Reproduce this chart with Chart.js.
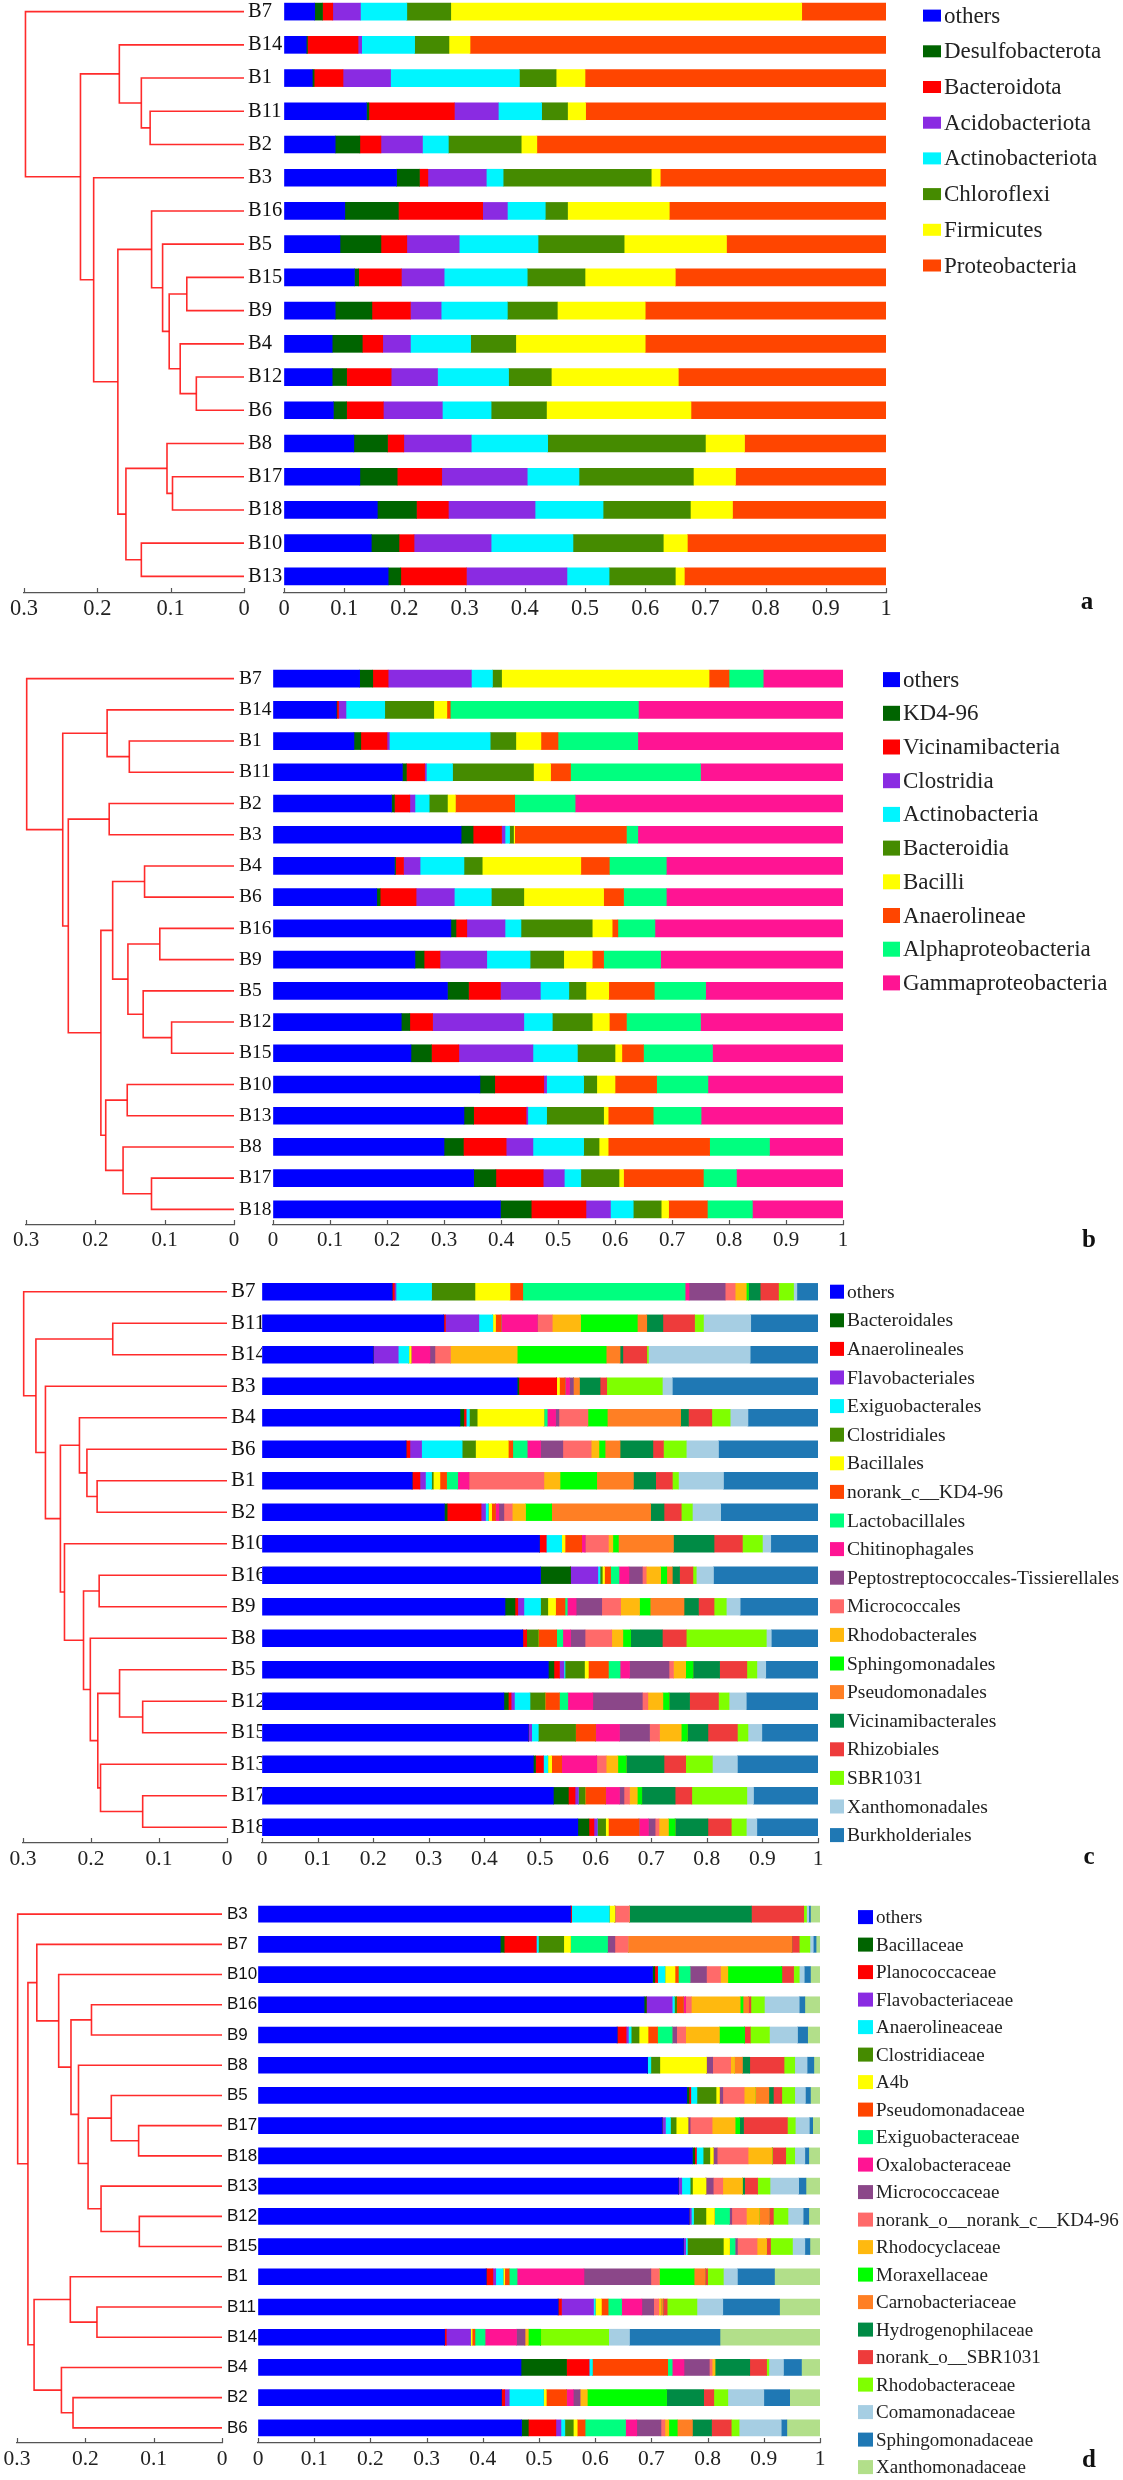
<!DOCTYPE html>
<html><head><meta charset="utf-8">
<script src="https://cdn.jsdelivr.net/npm/chart.js@4.4.1/dist/chart.umd.min.js"></script>
<style>
html,body{margin:0;padding:0;background:#fff;}
#page{position:relative;width:1123px;height:2480px;overflow:hidden;background:#fff;}
canvas{position:absolute;}
</style></head>
<body><div id="page"></div>
<script>
// ---------------- DATA ----------------
// Panel a (phylum)
const samplesA = ["B7","B14","B1","B11","B2","B3","B16","B5","B15","B9","B4","B12","B6","B8","B17","B18","B10","B13"];
const taxaA = ["others","Desulfobacterota","Bacteroidota","Acidobacteriota","Actinobacteriota","Chloroflexi","Firmicutes","Proteobacteria"];
const valuesA = [
  [.051,.013,.017,.046,.077,.073,.583,.140],
  [.037,.002,.084,.006,.088,.057,.035,.691],
  [.047,.003,.048,.079,.214,.061,.048,.500],
  [.137,.004,.142,.073,.072,.043,.030,.499],
  [.085,.041,.035,.069,.043,.121,.026,.580],
  [.187,.038,.014,.097,.028,.246,.015,.375],
  [.101,.089,.140,.041,.063,.037,.169,.360],
  [.093,.068,.043,.087,.131,.143,.170,.265],
  [.117,.007,.071,.071,.138,.096,.150,.350],
  [.085,.061,.064,.051,.110,.083,.146,.400],
  [.080,.050,.034,.046,.100,.075,.215,.400],
  [.080,.024,.074,.077,.118,.071,.211,.345],
  [.082,.022,.061,.098,.081,.092,.240,.324],
  [.116,.056,.027,.112,.127,.262,.065,.235],
  [.126,.062,.074,.142,.086,.190,.070,.250],
  [.155,.065,.053,.144,.113,.145,.070,.255],
  [.145,.046,.025,.128,.136,.150,.040,.330],
  [.173,.021,.109,.167,.070,.110,.015,.335]
];
// linkage: [left, right, height]; numbers refer to earlier merges
const treeA = [
  ["B11","B2",0.128],["B1",0,0.140],["B14",1,0.170],["B15","B9",0.078],["B12","B6",0.065],
  ["B4",4,0.087],[3,5,0.102],["B5",6,0.111],["B16",7,0.126],["B17","B18",0.0975],
  ["B8",9,0.105],["B10","B13",0.140],[10,11,0.161],[8,12,0.172],["B3",13,0.205],
  [2,14,0.223],["B7",15,0.298]
];

// Panel b (class)
const samplesB = ["B7","B14","B1","B11","B2","B3","B4","B6","B16","B9","B5","B12","B15","B10","B13","B8","B17","B18"];
const taxaB = ["others","KD4-96","Vicinamibacteria","Clostridia","Actinobacteria","Bacteroidia","Bacilli","Anaerolineae","Alphaproteobacteria","Gammaproteobacteria"];
const valuesB = [
  [.152,.023,.027,.146,.037,.016,.364,.035,.060,.140],
  [.111,.001,.003,.013,.068,.086,.023,.006,.330,.359],
  [.142,.012,.046,.004,.177,.045,.044,.030,.140,.360],
  [.227,.007,.032,.003,.046,.142,.030,.035,.228,.250],
  [.208,.005,.027,.009,.025,.032,.014,.104,.106,.470],
  [.330,.021,.050,.006,.008,.007,.002,.196,.020,.360],
  [.213,.002,.014,.029,.077,.032,.173,.050,.100,.310],
  [.182,.006,.063,.067,.065,.057,.140,.035,.075,.310],
  [.312,.009,.019,.067,.028,.125,.035,.010,.065,.330],
  [.249,.016,.028,.082,.076,.059,.050,.020,.100,.320],
  [.306,.037,.056,.070,.050,.030,.040,.080,.090,.241],
  [.225,.015,.040,.160,.050,.070,.030,.030,.130,.250],
  [.242,.036,.048,.130,.078,.066,.012,.038,.121,.229],
  [.363,.026,.086,.005,.065,.023,.032,.073,.090,.237],
  [.335,.017,.092,.003,.033,.100,.008,.079,.084,.249],
  [.300,.034,.075,.047,.089,.027,.016,.178,.105,.129],
  [.352,.039,.083,.037,.029,.067,.008,.140,.058,.187],
  [.399,.054,.096,.043,.040,.049,.013,.068,.079,.159]
];
const treeB = [
  ["B1","B11",0.151],["B14",0,0.183],["B2","B3",0.180],["B4","B6",0.129],["B16","B9",0.107],
  ["B12","B15",0.090],["B5",5,0.131],[4,6,0.153],[3,7,0.175],["B10","B13",0.154],
  ["B17","B18",0.119],["B8",10,0.160],[9,11,0.185],[8,12,0.192],[2,13,0.239],
  [1,14,0.247],["B7",15,0.299]
];

// Panel c (order)
const samplesC = ["B7","B11","B14","B3","B4","B6","B1","B2","B10","B16","B9","B8","B5","B12","B15","B13","B17","B18"];
const taxaC = ["others","Bacteroidales","Anaerolineales","Flavobacteriales","Exiguobacterales","Clostridiales","Bacillales","norank_c__KD4-96","Lactobacillales","Chitinophagales","Peptostreptococcales-Tissierellales","Micrococcales","Rhodobacterales","Sphingomonadales","Pseudomonadales","Vicinamibacterales","Rhizobiales","SBR1031","Xanthomonadales","Burkholderiales"];
const valuesC = [
  [.234,0,.004,.003,.064,.078,.063,.023,.292,.007,.065,.018,.020,.004,0,.021,.033,.027,.006,.038],
  [.327,0,.003,.060,.025,0,.005,.010,0,.065,0,.027,.051,.102,.017,.029,.057,.016,.085,.121],
  [.200,0,0,.045,.019,0,.004,0,0,.034,.009,.028,.120,.160,.025,.005,.043,.003,.183,.122],
  [.459,.003,.068,0,0,0,.005,.010,0,.008,.007,0,0,0,.011,.037,.012,.100,.018,.262],
  [.356,.007,.004,0,.006,.014,.120,0,.006,.015,.006,.052,0,.035,.132,.014,.042,.033,.032,.126],
  [.259,0,.007,.021,.073,.024,.059,.008,.026,.024,.040,.051,.014,.011,.027,.059,.019,.041,.058,.179],
  [.270,0,.014,.010,.011,.003,.012,.012,.020,.020,0,.135,.029,.066,.066,.040,.030,.011,.081,.170],
  [.328,.005,.061,.008,.005,0,.006,.007,0,.006,.009,.015,.024,.047,.178,.024,.031,.020,.051,.175],
  [.499,0,.012,0,.028,0,.006,.030,0,.006,0,.042,.008,.010,.099,.073,.051,.036,.015,.085],
  [.501,.054,0,.049,.004,.004,.004,.011,.015,.018,.024,.007,.026,.011,.010,.013,.024,.006,.031,.188],
  [.437,.018,.005,.011,.030,.013,.014,.017,.004,.016,.046,.034,.034,.019,.061,.026,.028,.022,.025,.140],
  [.469,0,.007,0,0,.021,0,.033,.011,.014,.026,.048,.020,.014,0,.057,.043,.144,.009,.084],
  [.515,.010,.010,.008,.002,.035,.007,.036,.021,.017,.071,.008,.022,.013,0,.048,.049,.018,.016,.094],
  [.435,.008,.005,.006,.028,.027,0,.026,.015,.045,.089,.010,.027,.011,0,.037,.052,.019,.031,.129],
  [.479,0,0,.006,.012,.067,0,.036,0,.043,.054,.018,.039,.011,0,.037,.053,.019,.025,.101],
  [.488,.004,.014,0,.008,0,.007,.018,0,.063,0,.017,.021,.015,0,.068,.039,.048,.045,.145],
  [.524,.027,.012,.006,0,.012,0,.037,0,.025,.008,.010,.014,.008,0,.060,.030,.099,.012,.116],
  [.568,.020,.009,.006,0,.015,.005,.055,0,.017,.012,.007,.017,.012,0,.059,.042,.027,.019,.110]
];
const treeC = [
  ["B11","B14",0.168],["B1","B2",0.191],["B6",1,0.206],["B4",2,0.217],["B16","B9",0.188],
  ["B12","B15",0.124],["B5",5,0.158],["B17","B18",0.124],["B13",7,0.186],[6,8,0.190],
  ["B8",9,0.201],[4,10,0.211],["B10",11,0.239],[3,12,0.245],["B3",13,0.267],
  [0,14,0.281],["B7",15,0.299]
];

// Panel d (family)
const samplesD = ["B3","B7","B10","B16","B9","B8","B5","B17","B18","B13","B12","B15","B1","B11","B14","B4","B2","B6"];
const taxaD = ["others","Bacillaceae","Planococcaceae","Flavobacteriaceae","Anaerolineaceae","Clostridiaceae","A4b","Pseudomonadaceae","Exiguobacteraceae","Oxalobacteraceae","Micrococcaceae","norank_o__norank_c__KD4-96","Rhodocyclaceae","Moraxellaceae","Carnobacteriaceae","Hydrogenophilaceae","norank_o__SBR1031","Rhodobacteraceae","Comamonadaceae","Sphingomonadaceae","Xanthomonadaceae"];
const valuesD = [
  [.556,0,.002,0,.067,0,.010,0,0,0,0,.026,0,0,0,.217,.093,.005,.004,.003,.017],
  [.431,.007,.057,0,.004,.045,.012,0,.066,0,.013,.024,0,0,.291,0,.013,.019,.006,.005,.007],
  [.702,.004,.005,0,.013,0,.018,.006,.021,0,.029,.025,.013,.096,0,0,.021,.010,.009,.011,.017],
  [.687,.004,0,.046,.004,.004,0,.012,0,.004,0,.010,.087,.005,.010,0,.004,.024,.062,.010,.027],
  [.639,0,.016,.004,.005,.014,.016,.017,.026,0,.008,.016,.060,.045,0,0,.010,.034,.050,.018,.022],
  [.693,0,0,0,.006,.016,.083,0,0,0,.011,.032,.007,0,.014,.013,.061,.019,.022,.012,.011],
  [.763,.004,.003,0,.011,.034,.006,0,0,0,.006,.038,.020,0,.024,.008,.015,.023,.019,.009,.017],
  [.719,0,0,.006,.009,.010,.021,0,0,0,.004,.039,.041,.008,0,.007,.078,.014,.025,.006,.013],
  [.773,.004,.003,0,.012,.012,.006,0,0,0,.007,.055,.043,0,0,0,.024,.016,.018,.007,.020],
  [.748,0,0,.006,.015,.004,.024,0,0,0,.013,.017,.035,0,0,.004,.023,.022,.051,.013,.025],
  [.767,0,0,.004,.004,.022,.015,0,.027,0,.004,.026,.023,0,.018,0,.007,.026,.027,.010,.020],
  [.757,0,0,.004,.003,.064,.011,0,.010,0,.004,.035,.017,0,0,0,.007,.039,.022,.009,.018],
  [.406,0,.012,.005,.013,0,.003,.008,.014,.119,.119,.015,0,.062,.020,0,.004,.028,.025,.066,.081],
  [.534,0,.006,.057,.003,0,.011,.012,.024,.036,.021,.009,.004,0,.004,0,.007,.053,.046,.101,.072],
  [.332,0,.003,.043,0,0,.003,.005,.018,.056,.015,0,.006,.022,0,0,0,.121,.037,.161,.178],
  [.468,.081,.040,0,.006,0,0,.134,.008,.021,.045,.005,.005,0,0,.062,.030,.004,.026,.032,.033],
  [.433,0,.006,.008,.061,0,.005,.036,0,.012,.012,0,.013,.141,0,.066,.018,.025,.064,.046,.054],
  [.469,.012,.049,.009,.007,.015,.007,.014,.072,.020,.043,.007,.007,.015,.027,.034,.035,.014,.075,.010,.059]
];
const treeD = [
  ["B16","B9",0.191],["B17","B18",0.122],["B5",1,0.162],["B12","B15",0.121],["B13",3,0.177],
  [2,4,0.196],["B8",5,0.210],[0,6,0.221],["B10",7,0.239],["B7",8,0.271],
  ["B11","B14",0.183],["B1",10,0.222],["B2","B6",0.218],["B4",12,0.235],[11,13,0.275],
  [9,14,0.284],["B3",15,0.299]
];

const axisTicks = [0, 0.1, 0.2, 0.3, 0.4, 0.5, 0.6, 0.7, 0.8, 0.9, 1];

// ---------------- STYLES / LAYOUT ----------------
const palette = ["#0000FF","#006400","#FF0000","#8A2BE2","#00F5FF","#458B00","#FFFF00","#FF4500","#00FF7F","#FF1493",
                 "#8B4789","#FF6A6A","#FFB90F","#00FF00","#FF7F24","#008B45","#EE3B3B","#7FFF00","#A6CEE3","#1F78B4","#B2DF8A"];
const paletteA = ["#0000FF","#006400","#FF0000","#8A2BE2","#00F5FF","#458B00","#FFFF00","#FF4500"];
const paletteB = ["#0000FF","#006400","#FF0000","#8A2BE2","#00F5FF","#458B00","#FFFF00","#FF4500","#00FF7F","#FF1493"];
const SERIF = '"Liberation Serif","Times New Roman",serif';
const SANS = '"Liberation Sans",Arial,sans-serif';
const W = 1123;
const LINE = "rgba(255,20,20,0.9)";

const layout = [
  {top:-4.6, step:33.2, barL:284, barR:886, dendL:24, dendR:244, labelX:248, barH:17,
   labelFont:SERIF, labelSize:20.5, tickSize:22.5,
   legX:923, legY:16, legStep:35.7, boxW:18, boxH:12, legSize:23, tag:"a", tagX:1087, tagY:603},
  {top:663.4, step:31.2, barL:273, barR:843, dendL:26, dendR:234, labelX:239, barH:17,
   labelFont:SERIF, labelSize:19.5, tickSize:21,
   legX:883, legY:680, legStep:33.7, boxW:17, boxH:15, legSize:23, tag:"b", tagX:1089, tagY:1241},
  {top:1276.3, step:31.5, barL:262, barR:818, dendL:23, dendR:227, labelX:231, barH:16.7,
   labelFont:SERIF, labelSize:21, tickSize:21.5,
   legX:830, legY:1292, legStep:28.6, boxW:14, boxH:14, legSize:19.5, tag:"c", tagX:1089, tagY:1858},
  {top:1898.9, step:30.2, barL:258, barR:820, dendL:17, dendR:222, labelX:227, barH:16,
   labelFont:SANS, labelSize:17, tickSize:21.5,
   legX:858, legY:1917, legStep:27.5, boxW:15, boxH:14, legSize:19, tag:"d", tagX:1089, tagY:2460}
];

const panels = [
  {samples:samplesA, taxa:taxaA, values:valuesA, tree:treeA, colors:paletteA, g:layout[0]},
  {samples:samplesB, taxa:taxaB, values:valuesB, tree:treeB, colors:paletteB, g:layout[1]},
  {samples:samplesC, taxa:taxaC, values:valuesC, tree:treeC, colors:palette.slice(0,20), g:layout[2]},
  {samples:samplesD, taxa:taxaD, values:valuesD, tree:treeD, colors:palette.slice(0,21), g:layout[3]}
];

// ---------------- PLUGINS ----------------
const innerTicks = {
  id:'innerTicks',
  afterDraw(chart){
    const s = chart.scales.x, ctx = chart.ctx;
    ctx.save(); ctx.strokeStyle = '#555'; ctx.lineWidth = 1.2;
    s.ticks.forEach((t,i)=>{
      const px = Math.round(s.getPixelForTick(i)) + 0.5;
      ctx.beginPath(); ctx.moveTo(px, s.top); ctx.lineTo(px, s.top - 5); ctx.stroke();
    });
    ctx.restore();
  }
};
function sideLegend(g, canvasTop){
  return {
    id:'sideLegend',
    afterDraw(chart){
      const ctx = chart.ctx;
      ctx.save();
      ctx.textBaseline = 'middle'; ctx.textAlign = 'left';
      ctx.font = g.legSize + 'px ' + SERIF;
      chart.data.datasets.forEach((ds,i)=>{
        const cy = g.legY + i*g.legStep - canvasTop;
        ctx.fillStyle = ds.backgroundColor;
        ctx.fillRect(g.legX, cy - g.boxH/2, g.boxW, g.boxH);
        ctx.fillStyle = '#222';
        ctx.fillText(ds.label, g.legX + g.boxW + 3, cy + 1);
      });
      ctx.font = 'bold 25px ' + SERIF; ctx.textAlign = 'center'; ctx.fillStyle = '#111';
      ctx.fillText(g.tag, g.tagX, g.tagY - canvasTop);
      ctx.restore();
    }
  };
}

function dendroSegments(samples, tree){
  const leaf = {}; samples.forEach((s,i)=>leaf[s] = {x:0, y:i});
  const nodes = []; const segs = [];
  tree.forEach(([a,b,h],k)=>{
    const A = typeof a === 'number' ? nodes[a] : leaf[a];
    const B = typeof b === 'number' ? nodes[b] : leaf[b];
    segs.push([{x:A.x,y:A.y},{x:h,y:A.y},{x:h,y:B.y},{x:B.x,y:B.y}]);
    nodes[k] = {x:h, y:(A.y+B.y)/2};
  });
  return segs;
}

// ---------------- BUILD ----------------
const page = document.getElementById('page');
const padTop = 16, axisH = 40;
const fmt = (v)=> String(Math.round(Number(v)*10)/10);
function xAxis(g, extra){
  return Object.assign({
    type:'linear', position:'bottom', min:0,
    ticks:{stepSize:0.1, autoSkip:false, maxRotation:0, padding:3, color:'#222', font:{family:SERIF, size:g.tickSize},
           callback:(v)=>fmt(v)},
    grid:{display:true, drawOnChartArea:false, drawTicks:false},
    border:{display:true, color:'#555', width:1.2},
    afterFit:(s)=>{ s.height = axisH; }
  }, extra);
}

panels.forEach(p=>{
  const g = p.g, n = p.samples.length;
  const canvasTop = g.top - padTop;
  const H = Math.ceil(padTop + n*g.step + axisH);

  // stacked bars
  const c1 = document.createElement('canvas');
  c1.width = W; c1.height = H; c1.style.left = '0px'; c1.style.top = canvasTop + 'px';
  page.appendChild(c1);
  new Chart(c1, {
    type:'bar',
    data:{
      labels:p.samples,
      datasets:p.taxa.map((t,j)=>({label:t, data:p.values.map(r=>r[j]), backgroundColor:p.colors[j], borderWidth:0, barThickness:g.barH}))
    },
    options:{
      indexAxis:'y', responsive:false, animation:false, devicePixelRatio:1,
      layout:{padding:{left:g.labelX, right:W - g.barR, top:padTop, bottom:0}},
      scales:{
        x: xAxis(g, {stacked:true, max:1, afterBuildTicks:(s)=>{ s.ticks = axisTicks.map(v=>({value:v})); }}),
        y:{type:'category', stacked:true, position:'left', offset:true,
           ticks:{autoSkip:false, crossAlign:'far', padding:0, color:'#111', font:{family:g.labelFont, size:g.labelSize}},
           grid:{display:false, drawTicks:false}, border:{display:false},
           afterFit:(s)=>{ s.width = g.barL - g.labelX; }}
      },
      plugins:{legend:{display:false}, tooltip:{enabled:false}}
    },
    plugins:[innerTicks, sideLegend(g, canvasTop)]
  });

  // dendrogram
  const dW = g.dendR + 20;
  const c2 = document.createElement('canvas');
  c2.width = dW; c2.height = H; c2.style.left = '0px'; c2.style.top = canvasTop + 'px';
  page.appendChild(c2);
  new Chart(c2, {
    type:'scatter',
    data:{datasets:dendroSegments(p.samples, p.tree).map(pts=>({data:pts, showLine:true, borderColor:LINE, borderWidth:1.6, pointRadius:0, pointHoverRadius:0, fill:false, tension:0, clip:false}))},
    options:{
      responsive:false, animation:false, devicePixelRatio:1,
      layout:{padding:{left:g.dendL, right:dW - g.dendR, top:padTop, bottom:0}},
      scales:{
        x: xAxis(g, {reverse:true, max:0.3}),
        y:{type:'linear', reverse:true, min:-0.5, max:n - 0.5, display:false}
      },
      plugins:{legend:{display:false}, tooltip:{enabled:false}}
    },
    plugins:[innerTicks]
  });
});
</script>
</body></html>
